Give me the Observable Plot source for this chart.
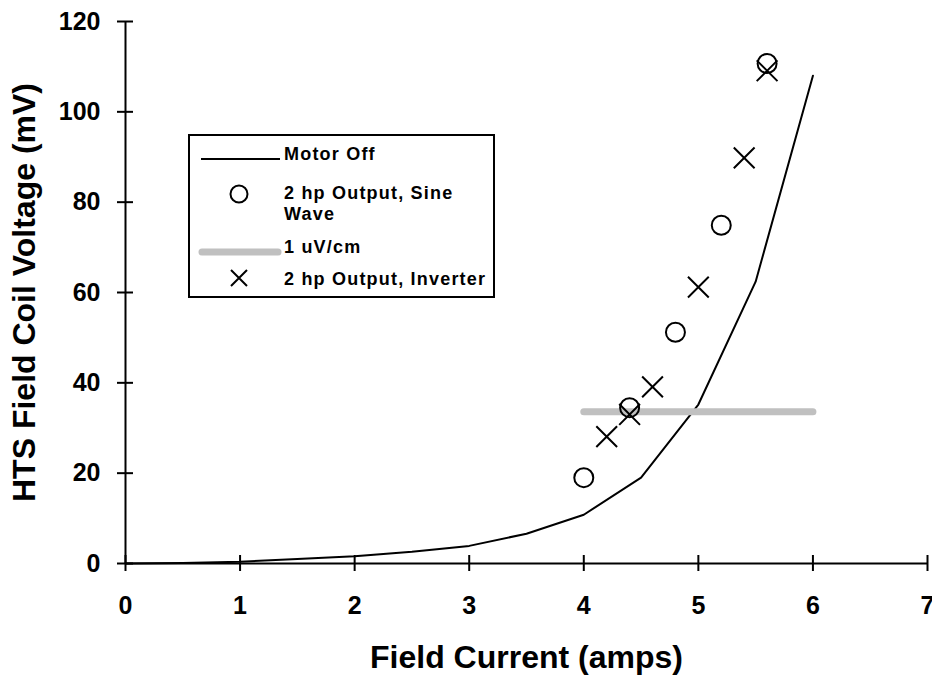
<!DOCTYPE html>
<html>
<head>
<meta charset="utf-8">
<script src="https://cdn.jsdelivr.net/npm/d3@7"></script>
<script src="https://cdn.jsdelivr.net/npm/@observablehq/plot@0.6"></script>
<style>
  html, body { margin: 0; padding: 0; background: #fff; }
  #wrap { position: relative; width: 932px; height: 675px; font-family: "Liberation Sans", Arial, sans-serif; }
  #legend { position: absolute; left: 188px; top: 134px; width: 307px; height: 164px; box-sizing: border-box; border: 2px solid #000; background: #fff; }
  .li { position: absolute; font-weight: bold; font-size: 18px; letter-spacing: 1.2px; color: #000; white-space: nowrap; }
  .sw { position: absolute; }
</style>
</head>
<body>
<div id="wrap"></div>
<script>
// ---- data ----
const motorX = [0, 0.5, 1, 1.5, 2, 2.5, 3, 3.5, 4, 4.5, 5, 5.5, 6];
const motorY = [0, 0.1, 0.4, 1.0, 1.6, 2.6, 3.9, 6.6, 10.8, 19.0, 35.2, 62.4, 108.0];
const sineX = [4.0, 4.4, 4.8, 5.2, 5.6];
const sineY = [19.0, 34.5, 51.2, 74.9, 110.7];
const invX = [4.2, 4.4, 4.6, 5.0, 5.4, 5.6];
const invY = [28.1, 33.0, 39.1, 61.2, 89.8, 109.1];
const refX = [4, 6];
const refY = [33.6, 33.6];
const xTicks = [0, 1, 2, 3, 4, 5, 6, 7];
const yTicks = [0, 20, 40, 60, 80, 100, 120];
const xTitle = "Field Current (amps)";
const yTitle = "HTS Field Coil Voltage (mV)";
const legendLabels = ["Motor Off", "2 hp Output, Sine\nWave", "1 uV/cm", "2 hp Output, Inverter"];

const motor = motorX.map((x, i) => ({x, y: motorY[i]}));
const sine = sineX.map((x, i) => ({x, y: sineY[i]}));
const inv = invX.map((x, i) => ({x, y: invY[i]}));
const ref = refX.map((x, i) => ({x, y: refY[i]}));

const fmt = d => String(d);

const chart = Plot.plot({
  width: 932,
  height: 675,
  marginLeft: 125,
  marginRight: 5,
  marginTop: 21,
  marginBottom: 112,
  style: {fontFamily: '"Liberation Sans", Arial, sans-serif', background: "#fff", color: "#000", overflow: "visible"},
  x: {domain: [0, 7], axis: null},
  y: {domain: [0, 120], axis: null},
  marks: [
    Plot.ruleY([0], {stroke: "#000", strokeWidth: 2}),
    Plot.ruleX([0], {stroke: "#000", strokeWidth: 2}),
    Plot.axisX(xTicks, {tickSize: 8, tickPadding: 25, tickFormat: fmt, label: null, fontSize: 25, fontWeight: "bold", strokeWidth: 2, stroke: "#000", fill: "#000"}),
    Plot.axisX(xTicks, {tickSize: 8, dy: -8, tickFormat: () => "", label: null, strokeWidth: 2, stroke: "#000"}),
    Plot.axisY(yTicks, {tickSize: 8, tickPadding: 17, tickFormat: fmt, label: null, fontSize: 25, fontWeight: "bold", strokeWidth: 2, stroke: "#000", fill: "#000"}),
    Plot.axisY(yTicks, {tickSize: 8, dx: 8, tickFormat: () => "", label: null, strokeWidth: 2, stroke: "#000"}),
    Plot.text([xTitle], {frameAnchor: "bottom", dy: 94, lineAnchor: "middle", textAnchor: "middle", fontSize: 32, fontWeight: "bold", fill: "#000"}),
    Plot.text([yTitle], {frameAnchor: "left", rotate: -90, dx: -101, dy: 0, lineAnchor: "middle", textAnchor: "middle", fontSize: 32, fontWeight: "bold", fill: "#000"}),
    Plot.line(motor, {x: "x", y: "y", stroke: "#000", strokeWidth: 2}),
    Plot.line(ref, {x: "x", y: "y", stroke: "#c0c0c0", strokeWidth: 7, strokeLinecap: "round"}),
    Plot.dot(sine, {x: "x", y: "y", r: 9.5, symbol: "circle", stroke: "#000", strokeWidth: 2, fill: "none"}),
    Plot.dot(inv, {x: "x", y: "y", r: 9.5, symbol: "times", stroke: "#000", strokeWidth: 2})
  ]
});

const wrap = document.getElementById("wrap");
wrap.appendChild(chart);

// ---- legend (overlay inside plot area, as in the reference) ----
const legend = document.createElement("div");
legend.id = "legend";
wrap.appendChild(legend);
const swatches = [
  '<svg width="82" height="10"><line x1="1" y1="5" x2="80" y2="5" stroke="#000" stroke-width="2"/></svg>',
  '<svg width="22" height="22"><circle cx="11" cy="11" r="8.5" fill="none" stroke="#000" stroke-width="2"/></svg>',
  '<svg width="84" height="10"><line x1="4" y1="5" x2="80" y2="5" stroke="#c0c0c0" stroke-width="7" stroke-linecap="round"/></svg>',
  '<svg width="22" height="22"><path d="M3,3L19,19M19,3L3,19" stroke="#000" stroke-width="2"/></svg>'
];
const swPos = [[10, 14], [38, 47], [8, 107], [38, 131]];
const rowY = [19, 58, 112, 144];
legendLabels.forEach((lab, i) => {
  const s = document.createElement("div");
  s.className = "sw";
  s.style.left = swPos[i][0] + "px";
  s.style.top = swPos[i][1] + "px";
  s.innerHTML = swatches[i];
  legend.appendChild(s);
  const t = document.createElement("div");
  t.className = "li";
  t.style.left = "94px";
  t.style.top = (rowY[i] - 11) + "px";
  t.style.lineHeight = "21px";
  t.innerHTML = lab.split("\n").join("<br>");
  legend.appendChild(t);
});
</script>
</body>
</html>
